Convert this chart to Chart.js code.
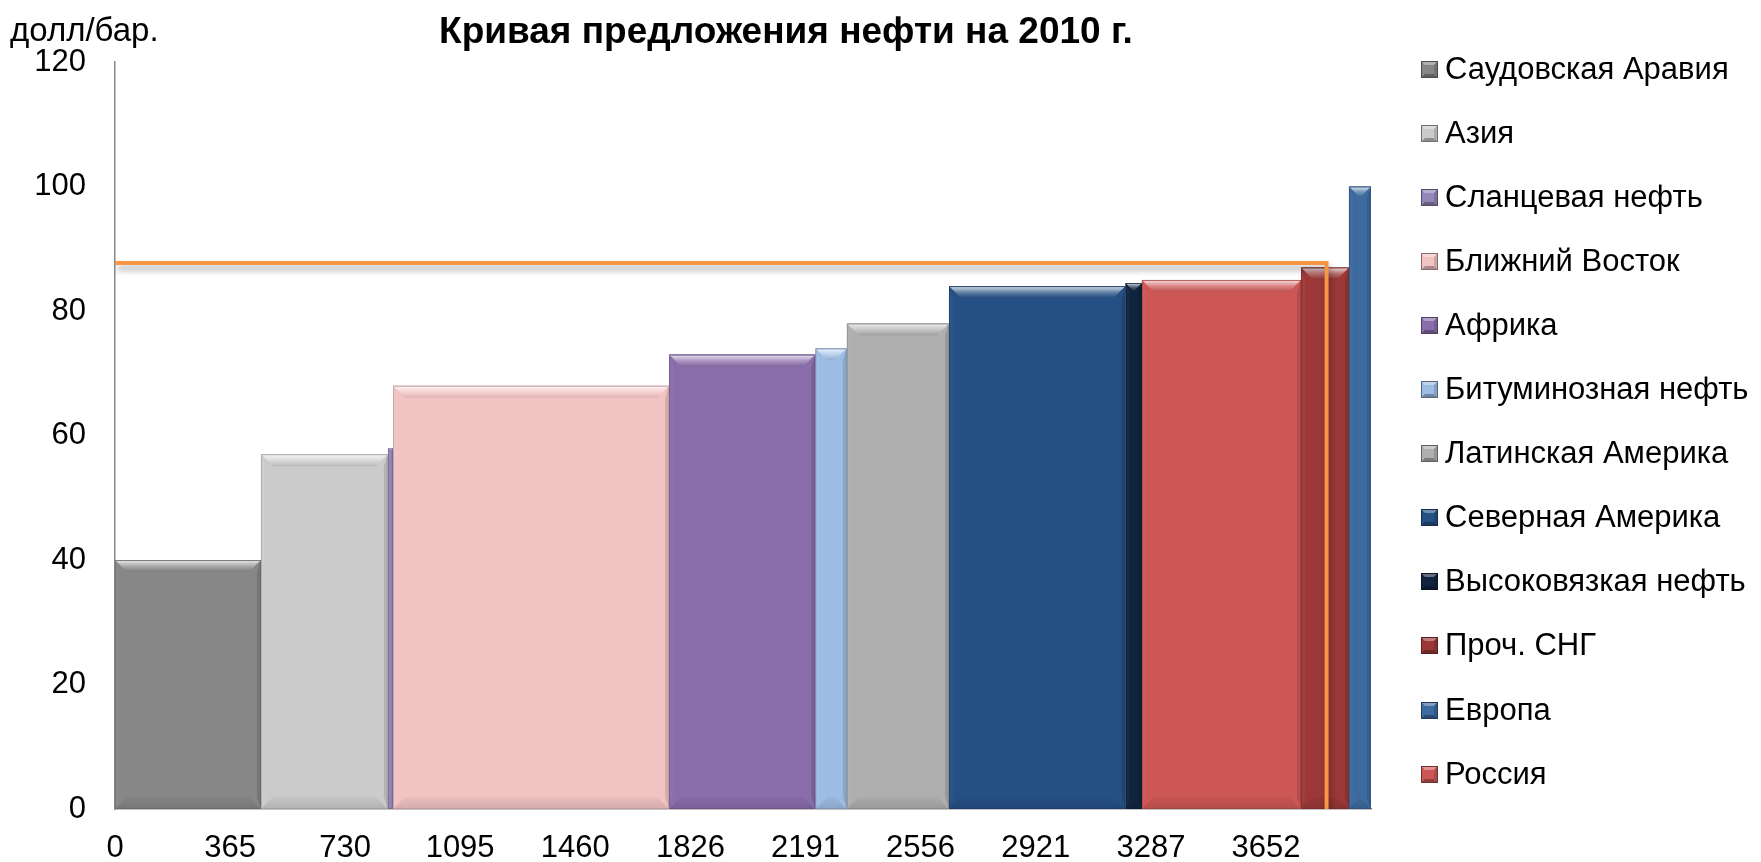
<!DOCTYPE html>
<html lang="ru">
<head>
<meta charset="utf-8">
<title>Кривая предложения нефти на 2010 г.</title>
<script src="https://cdn.jsdelivr.net/npm/chart.js@4.4.1/dist/chart.umd.min.js"></script>
<style>
    html, body { margin: 0; padding: 0; background: #fff; }
    #wrap { width: 1761px; height: 862px; }
</style>
</head>
<body>
<div id="wrap"><canvas id="supply" width="1761" height="862"></canvas></div>
<script>
// регионы в порядке легенды
const regions = [
    'Саудовская Аравия', 'Азия', 'Сланцевая нефть', 'Ближний Восток', 'Африка',
    'Битуминозная нефть', 'Латинская Америка', 'Северная Америка',
    'Высоковязкая нефть', 'Проч. СНГ', 'Европа', 'Россия'
];
// добыча, млн т в год
const volumeMt = [463, 403, 16, 876, 464, 100, 324, 560, 52, 152, 70, 505];
// себестоимость, долл/бар.
const priceUsd = [40, 57, 58, 68, 73, 74, 78, 84, 84.5, 87, 100, 85];
const regionColors = [
    '#878787', '#CBCBCB', '#9386B8', '#F2C3C3', '#8A6DAB', '#9DBDE4',
    '#AFAFAF', '#255085', '#10233F', '#9C3938', '#3D6A9F', '#CD5755'
];
const xTicks = [0, 365, 730, 1095, 1460, 1826, 2191, 2556, 2921, 3287, 3652];
const yTicks = [0, 20, 40, 60, 80, 100, 120];
// спрос
const demandMt = 3844;
const demandPrice = 87.7;

const FONT = '"Liberation Sans", Arial, sans-serif';

// кривая предложения: сначала самые дешёвые
let order = regions.map((r, i) => i).sort((a, b) => priceUsd[a] - priceUsd[b]);
let startMt = [], endMt = [];
let acc = 0;
order.forEach(i => {
    startMt[i] = acc;
    acc += volumeMt[i];
    endMt[i] = acc;
});
const totalMt = acc;

function shade(hex, amt) {
    let n = parseInt(hex.slice(1), 16);
    let c = [n >> 16, (n >> 8) & 255, n & 255];
    let mix = amt >= 0 ? 255 : 0, t = Math.abs(amt);
    c = c.map(v => Math.round(v + (mix - v) * t));
    return 'rgb(' + c.join(',') + ')';
}

function drawBevel(ctx, left, right, top, bottom, color) {
    let w = right - left, h = bottom - top;
    let b = Math.min(12, w / 2, h / 2);
    let s = Math.min(4, w / 4);
    // боковые грани
    ctx.fillStyle = shade(color, 0.03);
    ctx.beginPath();
    ctx.moveTo(left, top); ctx.lineTo(left + s, top + b);
    ctx.lineTo(left + s, bottom - b); ctx.lineTo(left, bottom);
    ctx.closePath(); ctx.fill();
    ctx.fillStyle = shade(color, -0.12);
    ctx.beginPath();
    ctx.moveTo(right, top); ctx.lineTo(right - s, top + b);
    ctx.lineTo(right - s, bottom - b); ctx.lineTo(right, bottom);
    ctx.closePath(); ctx.fill();
    // нижняя грань
    let gb = ctx.createLinearGradient(0, bottom - b, 0, bottom);
    gb.addColorStop(0, shade(color, -0.03));
    gb.addColorStop(1, shade(color, -0.12));
    ctx.fillStyle = gb;
    ctx.beginPath();
    ctx.moveTo(left, bottom); ctx.lineTo(right, bottom);
    ctx.lineTo(right - b, bottom - b); ctx.lineTo(left + b, bottom - b);
    ctx.closePath(); ctx.fill();
    // верхняя грань с бликом
    let gt = ctx.createLinearGradient(0, top, 0, top + b);
    gt.addColorStop(0, shade(color, -0.1));
    gt.addColorStop(0.12, shade(color, 0.7));
    gt.addColorStop(0.5, shade(color, 0.3));
    gt.addColorStop(1, shade(color, -0.08));
    ctx.fillStyle = gt;
    ctx.beginPath();
    ctx.moveTo(left, top); ctx.lineTo(right, top);
    ctx.lineTo(right - b, top + b); ctx.lineTo(left + b, top + b);
    ctx.closePath(); ctx.fill();
    // контур
    ctx.strokeStyle = shade(color, -0.3);
    ctx.globalAlpha = 0.5;
    ctx.lineWidth = 1;
    ctx.strokeRect(left + 0.5, top + 0.5, w - 1, h - 1);
    ctx.globalAlpha = 1;
}

const bevelPlugin = {
    id: 'bevel',
    beforeDatasetDraw(chart, args) {
        // тень под линией спроса
        if (args.index === regions.length) {
            let ctx = chart.ctx;
            ctx.save();
            ctx.shadowColor = 'rgba(0,0,0,0.35)';
            ctx.shadowBlur = 6;
            ctx.shadowOffsetY = 5;
            ctx.shadowOffsetX = 2;
        }
    },
    afterDatasetDraw(chart, args) {
        let i = args.index;
        let ctx = chart.ctx;
        if (i === regions.length) {
            ctx.restore();
            return;
        }
        let x = chart.scales.x, y = chart.scales.y;
        let area = chart.chartArea;
        ctx.save();
        ctx.beginPath();
        ctx.rect(area.left, area.top, area.right - area.left, area.bottom - area.top);
        ctx.clip();
        drawBevel(ctx, x.getPixelForValue(startMt[i]), x.getPixelForValue(endMt[i]),
            y.getPixelForValue(priceUsd[i]), y.getPixelForValue(0), regionColors[i]);
        ctx.restore();
    }
};

function legendBox(ctx, x, y, s, color) {
    let b = 4;
    ctx.fillStyle = color;
    ctx.fillRect(x, y, s, s);
    ctx.fillStyle = shade(color, 0.35);
    ctx.beginPath();
    ctx.moveTo(x, y); ctx.lineTo(x + s, y); ctx.lineTo(x + s - b, y + b); ctx.lineTo(x + b, y + b);
    ctx.closePath(); ctx.fill();
    ctx.fillStyle = shade(color, -0.3);
    ctx.beginPath();
    ctx.moveTo(x, y + s); ctx.lineTo(x + s, y + s); ctx.lineTo(x + s - b, y + s - b); ctx.lineTo(x + b, y + s - b);
    ctx.closePath(); ctx.fill();
    ctx.fillStyle = shade(color, -0.15);
    ctx.beginPath();
    ctx.moveTo(x + s, y); ctx.lineTo(x + s, y + s); ctx.lineTo(x + s - b, y + s - b); ctx.lineTo(x + s - b, y + b);
    ctx.closePath(); ctx.fill();
    ctx.strokeStyle = shade(color, -0.45);
    ctx.lineWidth = 1;
    ctx.strokeRect(x + 0.5, y + 0.5, s - 1, s - 1);
}

const textPlugin = {
    id: 'texts',
    afterDraw(chart) {
        let ctx = chart.ctx;
        ctx.save();
        ctx.fillStyle = '#000';
        ctx.textBaseline = 'middle';
        ctx.textAlign = 'center';
        ctx.font = 'bold 37px ' + FONT;
        ctx.fillText('Кривая предложения нефти на 2010 г.', 786, 33);
        ctx.textAlign = 'left';
        ctx.font = '33px ' + FONT;
        ctx.fillText('долл/бар.', 10, 32);
        // легенда
        ctx.font = '31px ' + FONT;
        regions.forEach((name, i) => {
            let cy = 69 + i * 64.1;
            legendBox(ctx, 1421, Math.round(cy - 8.5), 17, regionColors[i]);
            ctx.fillStyle = '#000';
            ctx.fillText(name, 1445, cy + 1);
        });
        ctx.restore();
    }
};

let datasets = regions.map((name, i) => ({
    label: name,
    data: [{ x: startMt[i], y: priceUsd[i] }, { x: endMt[i], y: priceUsd[i] }],
    fill: 'origin',
    backgroundColor: regionColors[i],
    borderWidth: 0,
    pointRadius: 0,
    order: 2
}));
datasets.push({
    label: 'Спрос',
    data: [{ x: 0, y: demandPrice }, { x: demandMt, y: demandPrice }, { x: demandMt, y: 0 }],
    borderColor: '#F79646',
    borderWidth: 4,
    fill: false,
    pointRadius: 0,
    order: 0
});

new Chart(document.getElementById('supply'), {
    type: 'line',
    data: { datasets: datasets },
    plugins: [bevelPlugin, textPlugin],
    options: {
        responsive: false,
        animation: false,
        layout: { padding: { left: 0, top: 62, right: 390, bottom: 0 } },
        plugins: {
            legend: { display: false },
            tooltip: { enabled: false },
            title: { display: false }
        },
        scales: {
            x: {
                type: 'linear',
                min: 0,
                max: totalMt,
                grid: { display: false, drawTicks: false },
                border: { display: true, color: '#888', width: 1.5 },
                afterBuildTicks: (s) => { s.ticks = xTicks.map(v => ({ value: v })); },
                afterFit: (s) => { s.height = 53; },
                ticks: {
                    color: '#000',
                    padding: 21,
                    autoSkip: false,
                    maxRotation: 0,
                    font: { family: FONT, size: 31 },
                    callback: (v) => String(v)
                }
            },
            y: {
                min: 0,
                max: 120,
                grid: { display: false, drawTicks: false },
                border: { display: true, color: '#888', width: 1.5 },
                afterBuildTicks: (s) => { s.ticks = yTicks.map(v => ({ value: v })); },
                afterFit: (s) => { s.width = 115; },
                ticks: {
                    color: '#000',
                    padding: 29,
                    font: { family: FONT, size: 31 }
                }
            }
        }
    }
});
</script>
</body>
</html>
